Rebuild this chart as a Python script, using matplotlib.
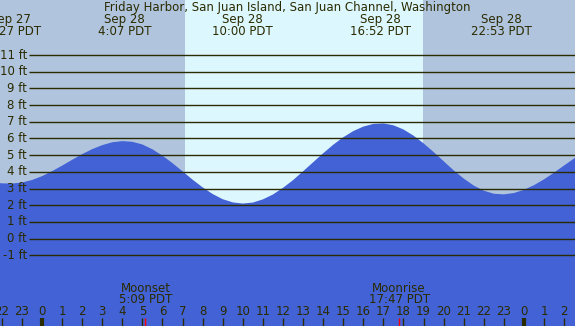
import numpy as np
from matplotlib import pyplot as plt
from matplotlib import transforms

# hours relative to Sep 28 00:00 PDT, sampled every half hour
hours = np.arange(-2.5, 27.5, 0.5)
heights = [
    3.40, 3.31, 3.30, 3.36, 3.51, 3.74, 4.04, 4.37, 4.72, 5.06,
    5.36, 5.60, 5.77, 5.84, 5.80, 5.64, 5.35, 4.97, 4.52, 4.03,
    3.53, 3.07, 2.67, 2.36, 2.17, 2.10, 2.16, 2.35, 2.64, 3.04,
    3.50, 4.03, 4.57, 5.11, 5.62, 6.07, 6.44, 6.71, 6.87, 6.90,
    6.79, 6.54, 6.17, 5.71, 5.19, 4.64, 4.09, 3.60, 3.18, 2.87,
    2.69, 2.65, 2.73, 2.92, 3.20, 3.55, 3.95, 4.38, 4.80, 5.19,
]

# high / low tide events
event_hours = [-1.55, 4.117, 10.0, 16.867, 22.883]
event_days = ["Sep 27", "Sep 28", "Sep 28", "Sep 28", "Sep 28"]
event_times = ["22:27 PDT", "4:07 PDT", "10:00 PDT", "16:52 PDT", "22:53 PDT"]

# moon events
moon_hours = [5.15, 17.783]
moon_names = ["Moonset", "Moonrise"]
moon_times = ["5:09 PDT", "17:47 PDT"]

sunrise = 7.12
sunset = 18.97

ft_levels = list(range(-1, 12))
hour_ticks = list(range(-2, 27))

title = "Friday Harbor, San Juan Island, San Juan Channel, Washington"

night_col = "#b0c4de"
day_col = "#ddf7ff"
tide_col = "#4262d6"
ink = "#2b2b00"

W, H = 575, 326
px_per_hr = 20.08
x0_px = 42
px_per_ft = 16.69
y0_px = 238.6


def hx(px):
    return (px - x0_px) / px_per_hr


def fy(py):
    return (y0_px - py) / px_per_ft


fig = plt.figure(figsize=(W / 100, H / 100), dpi=100)
ax = fig.add_axes([0, 0, 1, 1])
ax.set_xlim(hx(0), hx(W))
ax.set_ylim(fy(H), fy(0))
ax.axis("off")

xmin, xmax = ax.get_xlim()
ymin, ymax = ax.get_ylim()

ax.axvspan(xmin, sunrise, color=night_col, lw=0, zorder=0)
ax.axvspan(sunrise, sunset, color=day_col, lw=0, zorder=0)
ax.axvspan(sunset, xmax, color=night_col, lw=0, zorder=0)

ax.fill_between(hours, heights, ymin, color=tide_col, lw=0, zorder=1)

ax.hlines(ft_levels, hx(29), xmax, color=ink, lw=1, zorder=2)

fs = 8.5
for lv in ft_levels:
    ax.text(hx(27), lv, f"{lv} ft", ha="right", va="center",
            fontsize=fs, color=ink, zorder=3)

trans = transforms.blended_transform_factory(ax.transData, ax.transAxes)


def ay(py):
    return 1 - py / H


ax.text(hx(W / 2), ay(7.5), title, transform=trans, ha="center",
        va="center", fontsize=fs, color=ink)
for h, d, t in zip(event_hours, event_days, event_times):
    ax.text(h, ay(19.5), d, transform=trans, ha="center", va="center",
            fontsize=fs, color=ink)
    ax.text(h, ay(31.5), t, transform=trans, ha="center", va="center",
            fontsize=fs, color=ink)

for h, n, t in zip(moon_hours, moon_names, moon_times):
    ax.text(h, ay(288), n, transform=trans, ha="center", va="center",
            fontsize=fs, color=ink, zorder=3)
    ax.text(h, ay(299.5), t, transform=trans, ha="center", va="center",
            fontsize=fs, color=ink, zorder=3)
    ax.vlines(h, fy(318), ymin, color="red", lw=1, zorder=3)

for h in hour_ticks:
    ax.text(h, ay(311.5), str(h % 24), transform=trans, ha="center",
            va="center", fontsize=fs, color=ink, zorder=3)
    lw = 3 if h % 24 == 0 else 1
    ax.vlines(h, fy(318), ymin, color=ink, lw=lw, zorder=3)

fig.savefig("out.png", dpi=100)
plt.close(fig)
